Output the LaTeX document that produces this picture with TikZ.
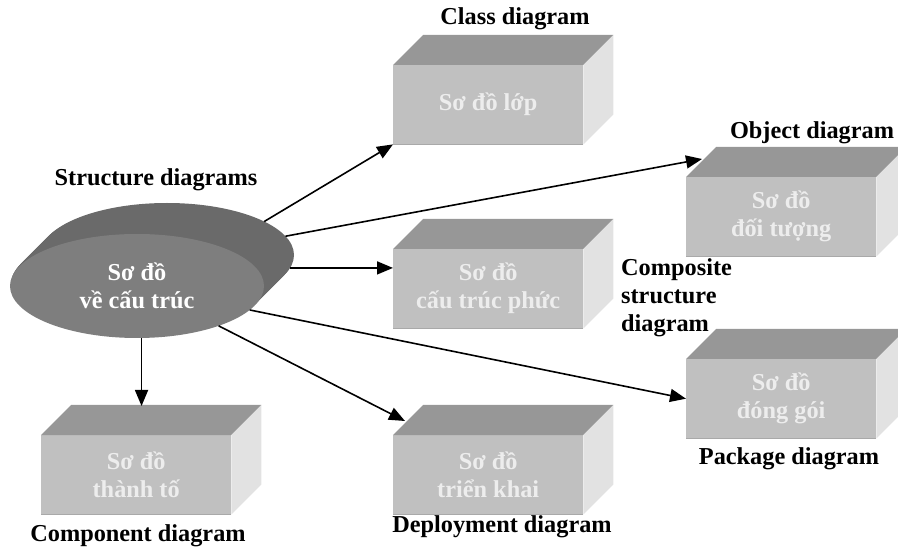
\documentclass[tikz,border=0pt]{standalone}
\usepackage{fontspec}
\setmainfont{Liberation Serif}
\usetikzlibrary{arrows.meta, positioning, shapes.geometric}
\definecolor{facegray}{HTML}{C0C0C0}
\definecolor{topgray}{HTML}{979797}
\definecolor{sidegray}{HTML}{E2E2E2}
\definecolor{edgegray}{HTML}{A9A9A9}
\definecolor{boxtext}{HTML}{EDEDED}
\definecolor{diskfront}{HTML}{7E7E7E}
\definecolor{diskside}{HTML}{6A6A6A}

\begin{document}
\begin{tikzpicture}[
		x=1pt, y=-1pt,
		font=\fontsize{24.3}{28}\selectfont\bfseries,
		box/.style={rectangle, fill=facegray, minimum width=190pt, minimum height=79pt, inner sep=0pt, anchor=north west, text=boxtext, align=center},
		title/.style={text=black, inner sep=0pt},
		link/.style={-{Triangle[length=16pt, width=13pt]}, line width=1.6pt}
		]
		\useasboundingbox (0,0) rectangle (898,548);
		
		% Disk
		\node (disk) [ellipse, fill=diskside, minimum width=254pt, minimum height=104pt, inner sep=0pt, outer sep=0pt] at (167,255) {};
		\foreach \i in {29,28,...,1}
			\fill[diskside] (137+\i,285-\i) ellipse [x radius=127, y radius=52];
		\node (main) [ellipse, fill=diskfront, minimum width=254pt, minimum height=104pt, inner sep=0pt, outer sep=0pt, text=white, align=center] at (137,286) {Sơ đồ\\về cấu trúc};
		
		% Boxes
		\node (cls) [box] at (393,65) {Sơ đồ lớp};
		\node (obj) [box] at (686,177) {Sơ đồ\\đối tượng};
		\node (comp) [box] at (393,249) {Sơ đồ\\cấu trúc phức};
		\node (pkg) [box] at (686,359) {Sơ đồ\\đóng gói};
		\node (dep) [box] at (393,435) {Sơ đồ\\triển khai};
		\node (cmp) [box] at (41,435) {Sơ đồ\\thành tố};
		
		\foreach \n in {cls,obj,comp,pkg,dep,cmp} {
			\fill[topgray] (\n.north west) -- ++(30,-30) -- ([shift={(30,-30)}]\n.north east) -- (\n.north east) -- cycle;
			\fill[sidegray] (\n.north east) -- ++(30,-30) -- ([shift={(30,-30)}]\n.south east) -- (\n.south east) -- cycle;
			\draw[line width=1.5pt, edgegray] (\n.south west) -- (\n.south east);
		}
		
		% Labels
		\node (lstruct) [title] at (156,180) {Structure diagrams};
		\node (lcls) [title] at (515,19) {Class diagram};
		\node (lobj) [title] at (812,133) {Object diagram};
		\node (lcomp) [title, anchor=west, align=left] at (621,298) {Composite\\structure\\diagram};
		\node (lpkg) [title] at (789,459) {Package diagram};
		\node (ldep) [title] at (502,527) {Deployment diagram};
		\node (lcmp) [title] at (138,536) {Component diagram};
		
		% Arrows
		\coordinate (cmptop) at ([shift={(0,-29)}]cmp.north);
		\draw [link] (disk.19) -- (cls.south west);
		\draw [link] (disk.9) -- ([shift={(16,-18)}]obj.north west);
		\draw [link] (disk.-6) -- (disk.-6 -| comp.west);
		\draw [link] (main.-12) -- (pkg.west);
		\draw [link] (main.-26) -- ([shift={(12,-14)}]dep.north west);
		\draw [link] (main.-85) -- (main.-85 |- cmptop);
		
	\end{tikzpicture}
\end{document}
